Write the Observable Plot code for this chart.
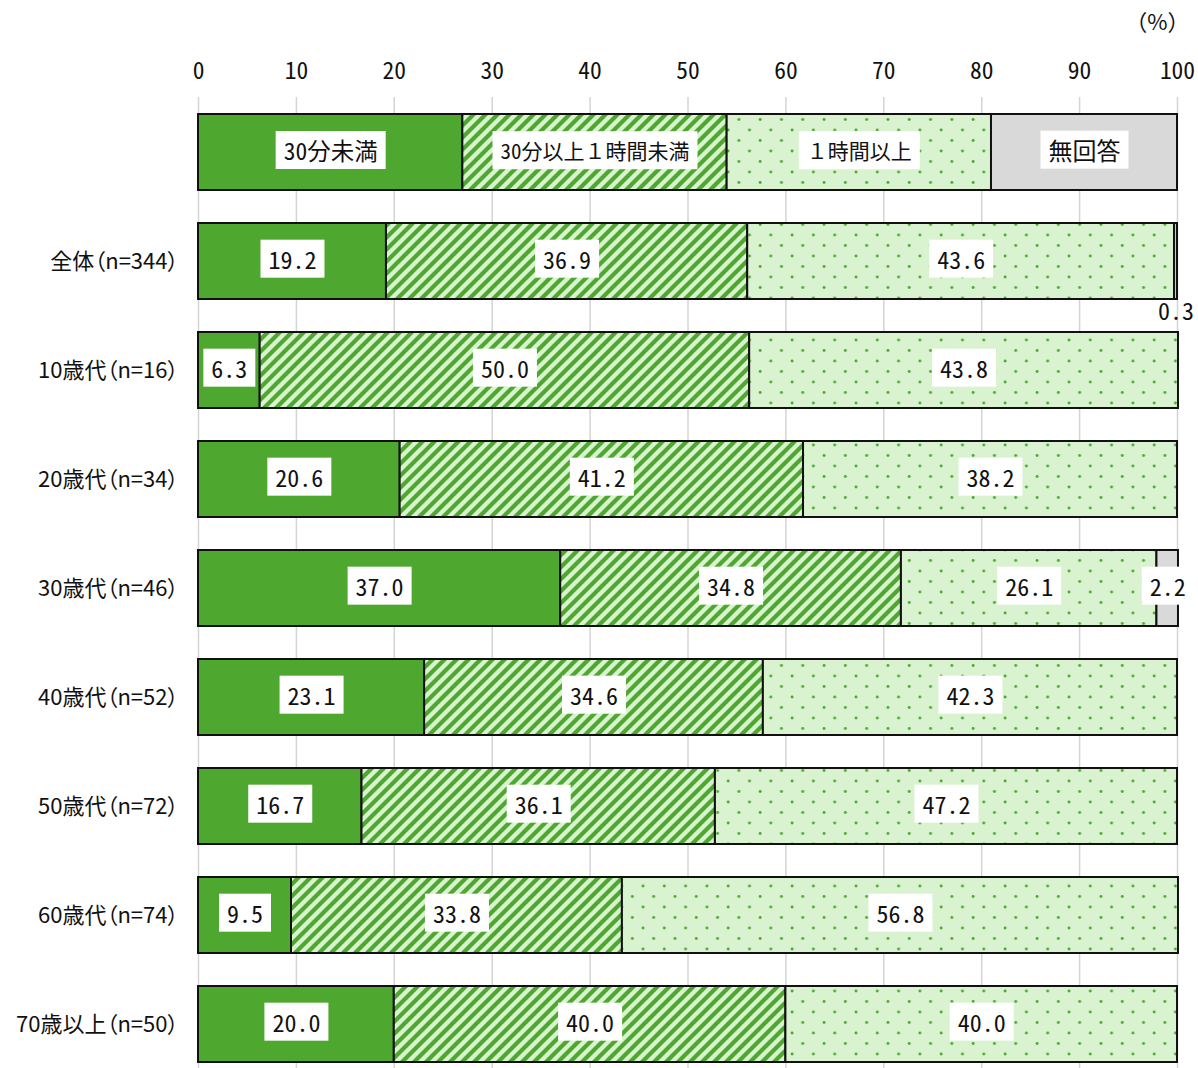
<!DOCTYPE html>
<html><head><meta charset="utf-8">
<script src="https://cdn.jsdelivr.net/npm/d3@7"></script>
<script src="https://cdn.jsdelivr.net/npm/@observablehq/plot@0.6"></script>
<style>body{margin:0;background:#fff} svg{display:block}
svg g[aria-label="y-axis tick label"] text{font-feature-settings:"palt" 1}</style>
</head><body>
<script>
// ---- data ----
const categories = ["30分未満", "30分以上１時間未満", "１時間以上", "無回答"];
const legendWidths = [27, 27, 27, 19];
const groups = ["全体（n=344）", "10歳代（n=16）", "20歳代（n=34）", "30歳代（n=46）", "40歳代（n=52）", "50歳代（n=72）", "60歳代（n=74）", "70歳以上（n=50）"];
const under30 = [19.2, 6.3, 20.6, 37.0, 23.1, 16.7, 9.5, 20.0];
const from30to60 = [36.9, 50.0, 41.2, 34.8, 34.6, 36.1, 33.8, 40.0];
const over60 = [43.6, 43.8, 38.2, 26.1, 42.3, 47.2, 56.8, 40.0];
const noAnswer = [0.3, 0, 0, 2.2, 0, 0, 0, 0];
const xTicks = [0, 10, 20, 30, 40, 50, 60, 70, 80, 90, 100];
const unitLabel = "（%）";
const legendKey = "凡例";

// ---- styles ----
const MONO = '"Noto Sans Mono CJK JP","Noto Sans CJK JP",sans-serif';
const PROP = '"Noto Sans CJK JP",sans-serif';
const GREEN = "#4ea72e", LIGHT = "#d9f2d0", GRAY = "#d9d9d9";
const fills = {
  [categories[0]]: GREEN,
  [categories[1]]: "url(#stripes)",
  [categories[2]]: "url(#dots)",
  [categories[3]]: GRAY
};
const legendFont = {[categories[0]]: 23.5, [categories[1]]: 21, [categories[2]]: 21, [categories[3]]: 24};

// ---- build segments ----
const series = [under30, from30to60, over60, noAnswer];
const segs = [];
{
  let acc = 0;
  categories.forEach((c, j) => {
    segs.push({row: legendKey, cat: c, value: legendWidths[j], x1: acc, x2: acc + legendWidths[j], label: c, legend: true});
    acc += legendWidths[j];
  });
}
groups.forEach((g, i) => {
  let acc = 0;
  categories.forEach((c, j) => {
    const v = series[j][i];
    segs.push({row: g, cat: c, value: v, x1: acc, x2: acc + v, label: v.toFixed(1), legend: false});
    acc += v;
  });
});

const defs = () => {
  const d = d3.create("svg:defs");
  const P = 12;
  const st = d.append("pattern").attr("id", "stripes").attr("patternUnits", "userSpaceOnUse")
    .attr("width", P).attr("height", P);
  st.append("rect").attr("width", P).attr("height", P).attr("fill", LIGHT);
  st.append("path").attr("d", `M${-P/4},${P/4}L${P/4},${-P/4}M0,${P}L${P},0M${P*0.75},${P*1.25}L${P*1.25},${P*0.75}`)
    .attr("stroke", GREEN).attr("stroke-width", 4.2);
  const dt = d.append("pattern").attr("id", "dots").attr("patternUnits", "userSpaceOnUse")
    .attr("width", 21.3).attr("height", 21);
  dt.append("rect").attr("width", 21.3).attr("height", 21).attr("fill", LIGHT);
  dt.append("circle").attr("cx", 4).attr("cy", 4).attr("r", 1.45).attr("fill", GREEN);
  dt.append("circle").attr("cx", 14.65).attr("cy", 14.5).attr("r", 1.45).attr("fill", GREEN);
  return d.node();
};

const visible = segs.filter(d => d.value > 0);
const inside = visible.filter(d => d.legend || d.value >= 1);
const outside = visible.filter(d => !d.legend && d.value < 1);

const chart = Plot.plot({
  width: 1198,
  height: 1068,
  marginTop: 97,
  marginLeft: 198,
  marginRight: 21,
  marginBottom: 0,
  style: {fontFamily: MONO, background: "white", color: "#111"},
  x: {domain: [0, 100]},
  y: {domain: [legendKey, ...groups], range: [113, 1064], paddingInner: 0.3, paddingOuter: 0},
  marks: [
    defs,
    Plot.gridX(xTicks, {stroke: "#d4d4d4", strokeOpacity: 1, strokeWidth: 1.5}),
    ...categories.map(c => Plot.barX(visible.filter(d => d.cat === c), {
      x1: "x1", x2: "x2", y: "row", fill: fills[c], stroke: "#111", strokeWidth: 2
    })),
    Plot.text(inside, {
      x: d => (d.x1 + d.x2) / 2, y: "row", text: "label",
      fontSize: d => d.legend ? legendFont[d.cat] : 24,
      fill: "#111", ariaLabel: () => "vlabel"
    }),
    Plot.text(outside, {
      x: d => (d.x1 + d.x2) / 2, y: "row", text: "label", dy: 51,
      fontSize: 24, fill: "#111"
    }),
    Plot.axisX(xTicks, {anchor: "top", tickSize: 0, tickPadding: 19, fontSize: 23.5, label: null}),
    Plot.axisY({tickSize: 0, tickPadding: 20, fontSize: 22, label: null, fontFamily: PROP,
      tickFormat: d => d === legendKey ? "" : d}),
    Plot.text([unitLabel], {frameAnchor: "top-right", lineAnchor: "middle", textAnchor: "end",
      dx: 12, dy: -75, fontSize: 22, fill: "#111", fontFamily: PROP})
  ]
});
document.body.appendChild(chart);

// white boxes behind in-bar labels
let labels = [...chart.querySelectorAll('text[aria-label="vlabel"]')];
if (!labels.length) {
  const g = chart.querySelector('g[aria-label="text"]');
  if (g) labels = [...g.querySelectorAll("text")];
}
labels.forEach(t => {
  const b = t.getBBox();
  const cy = b.y + b.height / 2;
  const r = document.createElementNS("http://www.w3.org/2000/svg", "rect");
  r.setAttribute("x", b.x - 8);
  r.setAttribute("y", cy - 19);
  r.setAttribute("width", b.width + 16);
  r.setAttribute("height", 38);
  r.setAttribute("fill", "white");
  const tr = t.getAttribute("transform");
  if (tr) r.setAttribute("transform", tr);
  t.parentNode.insertBefore(r, t);
});
</script>
</body></html>
